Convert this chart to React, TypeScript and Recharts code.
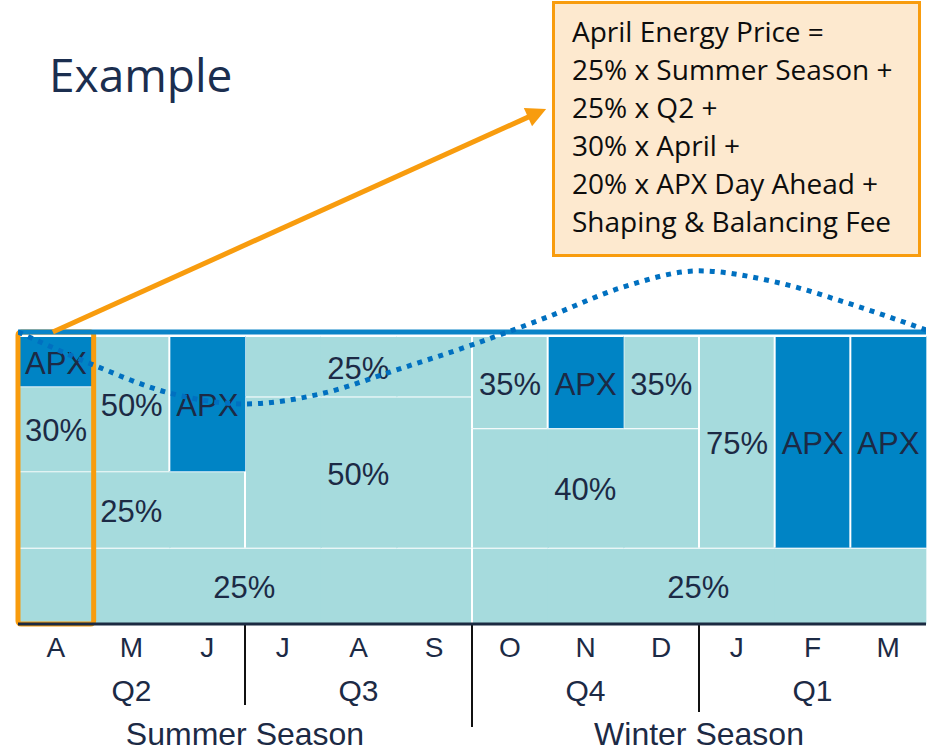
import {
  Bar,
  ComposedChart,
  Line,
  ReferenceArea,
  ReferenceLine,
  XAxis,
  YAxis,
} from "recharts";

// Delivery months of the contract year, April to March.
const months = ["Apr", "May", "Jun", "Jul", "Aug", "Sep", "Oct", "Nov", "Dec", "Jan", "Feb", "Mar"];
const monthLetters = ["A", "M", "J", "J", "A", "S", "O", "N", "D", "J", "F", "M"];

// Share of each month's volume bought per product layer (height as drawn).
const seasonShare = [26.5, 26.5, 26.5, 26.5, 26.5, 26.5, 26.5, 26.5, 26.5, 26.5, 26.5, 26.5];
const quarterShare = [26.5, 26.5, 26.5, 52.5, 52.5, 52.5, 41.5, 41.5, 41.5, 0, 0, 0];
const monthShare = [29.5, 47, 0, 21, 21, 21, 32, 0, 32, 73.5, 0, 0];
const apxShare = [17.5, 0, 47, 0, 0, 0, 0, 32, 0, 0, 73.5, 73.5];

// Which months one product block covers, and the label it carries.
const seasonBlock = ["S", "S", "S", "S", "S", "S", "W", "W", "W", "W", "W", "W"];
const seasonText = ["25%", "25%", "25%", "25%", "25%", "25%", "25%", "25%", "25%", "25%", "25%", "25%"];
const quarterBlock = ["Q2", "Q2", "Q2", "Q3", "Q3", "Q3", "Q4", "Q4", "Q4", "Q1", "Q1", "Q1"];
const quarterText = ["25%", "25%", "25%", "50%", "50%", "50%", "40%", "40%", "40%", "", "", ""];
const monthBlock = ["Apr", "May", "Jun", "Q3", "Q3", "Q3", "Oct", "Nov", "Dec", "Jan", "Feb", "Mar"];
const monthText = ["30%", "50%", "", "25%", "25%", "25%", "35%", "", "35%", "75%", "", ""];
const apxBlock = months;
const apxText = ["APX", "", "APX", "", "", "", "", "APX", "", "", "APX", "APX"];

// Axis groupings under the month letters.
const quarterNames = ["Q2", "Q3", "Q4", "Q1"];
const quarterCenters = [1.5, 4.5, 7.5, 10.5];
const seasonNames = ["Summer Season", "Winter Season"];
const seasonCenters = [3, 9];
const dividerAt = [3, 6, 9];

// Price curve (dotted), in months from the start of April.
const curveT = [0, 1, 2, 3, 4, 5, 6, 7, 8, 9, 10, 11, 12];
const curveValue = [101.4, 89.9, 80.2, 76.4, 79.9, 88.2, 96.9, 106.6, 117, 122.6, 118.8, 111.1, 102.1];

const topRule = 101.4;
const calloutLines = [
  "April Energy Price =",
  "25% x Summer Season +",
  "25% x Q2 +",
  "30% x April +",
  "20% x APX Day Ahead +",
  "Shaping & Balancing Fee",
];

const LIGHT = "#a6dbdd";
const DARK = "#0084c5";
const INK = "#1c2a45";
const ORANGE = "#f89c0e";
const LABEL_FONT = "'Liberation Sans', Arial, sans-serif";

const rows = months.map((month, i) => ({
  month,
  season: seasonShare[i],
  quarter: quarterShare[i],
  product: monthShare[i],
  apx: apxShare[i],
}));

const curve = curveT.map((t, i) => ({ t, v: curveValue[i] }));

// Stacked cell that only draws a white edge where a product block starts,
// so blocks spanning several months read as one merged cell. The label is
// drawn from the last month of the block so later cells don't cover it.
function makeCellShape(blocks: string[], texts: string[]) {
  return (props: any) => {
    const { x, y, width, height, fill } = props;
    const index = months.indexOf(props.payload?.month);
    if (!height || height <= 0) return <g />;
    const startsBlock = index === 0 || blocks[index - 1] !== blocks[index];
    const endsBlock = index === months.length - 1 || blocks[index + 1] !== blocks[index];
    let span = 1;
    while (index - span >= 0 && blocks[index - span] === blocks[index]) span++;
    const text = texts[index];
    // overlap the next cell a little so no hairline seam shows inside a block
    const drawWidth = endsBlock ? width : width + 1;
    return (
      <g>
        <rect x={x} y={y} width={drawWidth} height={height} fill={fill} />
        <line x1={x} x2={x + drawWidth} y1={y} y2={y} stroke="#fff" strokeWidth={2} />
        {startsBlock && <line x1={x} x2={x} y1={y} y2={y + height} stroke="#fff" strokeWidth={2} />}
        {endsBlock && text ? (
          <text
            x={x + width - (span * width) / 2}
            y={y + height / 2 + 2}
            textAnchor="middle"
            dominantBaseline="central"
            fontFamily={LABEL_FONT}
            fontSize={31}
            fill={INK}
          >
            {text}
          </text>
        ) : null}
      </g>
    );
  };
}

function MonthTick(props: any) {
  const index = months.indexOf(props.payload?.value);
  return (
    <text
      x={props.x}
      y={624 + 23}
      textAnchor="middle"
      dominantBaseline="central"
      fontFamily={LABEL_FONT}
      fontSize={28}
      fill={INK}
    >
      {monthLetters[index]}
    </text>
  );
}

function axisText(label: string, dy: number, size: number) {
  return (props: any) => {
    const bottom = Math.max(props.y1, props.y2);
    return (
      <text
        x={props.x1}
        y={bottom + dy}
        textAnchor="middle"
        dominantBaseline="central"
        fontFamily={LABEL_FONT}
        fontSize={size}
        fill={INK}
      >
        {label}
      </text>
    );
  };
}

function dividerShape(length: number) {
  return (props: any) => {
    const bottom = Math.max(props.y1, props.y2);
    return <line x1={props.x1} x2={props.x1} y1={bottom} y2={bottom + length} stroke="#111" strokeWidth={2} />;
  };
}

function ArrowShape(props: any) {
  const { x1, y1, x2, y2 } = props;
  const dx = x2 - x1;
  const dy = y2 - y1;
  const len = Math.hypot(dx, dy);
  const ux = dx / len;
  const uy = dy / len;
  const bx = x2 - ux * 20;
  const by = y2 - uy * 20;
  const half = 10;
  return (
    <g>
      <line x1={x1} y1={y1} x2={bx + ux * 2} y2={by + uy * 2} stroke={ORANGE} strokeWidth={5} />
      <polygon
        points={`${x2},${y2} ${bx - uy * half},${by + ux * half} ${bx + uy * half},${by - ux * half}`}
        fill={ORANGE}
      />
    </g>
  );
}

const dividerLength = [81, 103, 88];

export default function App() {
  return (
    <div style={{ position: "absolute", left: 0, top: 0, width: 932, height: 751, background: "#fff" }}>
      <ComposedChart
        width={932}
        height={751}
        data={rows}
        margin={{ top: 58, right: 6, bottom: 0, left: 18 }}
        barCategoryGap={0}
        barGap={0}
      >
        <XAxis
          xAxisId="m"
          dataKey="month"
          height={127}
          interval={0}
          tickLine={false}
          tickSize={0}
          tickMargin={0}
          axisLine={{ stroke: "#1b2a41", strokeWidth: 3 }}
          tick={<MonthTick />}
        />
        <XAxis xAxisId="t" type="number" dataKey="t" domain={[0, 12]} allowDataOverflow hide />
        <YAxis
          domain={[0, 196.5]}
          allowDataOverflow
          width={0}
          tick={false}
          tickLine={false}
          axisLine={{ stroke: "#1b2a41", strokeWidth: 2 }}
        />

        <Bar xAxisId="m" dataKey="season" stackId="a" fill={LIGHT} isAnimationActive={false} shape={makeCellShape(seasonBlock, seasonText)} />
        <Bar xAxisId="m" dataKey="quarter" stackId="a" fill={LIGHT} isAnimationActive={false} shape={makeCellShape(quarterBlock, quarterText)} />
        <Bar xAxisId="m" dataKey="product" stackId="a" fill={LIGHT} isAnimationActive={false} shape={makeCellShape(monthBlock, monthText)} />
        <Bar xAxisId="m" dataKey="apx" stackId="a" fill={DARK} isAnimationActive={false} shape={makeCellShape(apxBlock, apxText)} />

        <ReferenceLine xAxisId="t" y={topRule} stroke="#0a84c8" strokeWidth={5} />

        {dividerAt.map((t, i) => (
          <ReferenceLine key={`d${t}`} xAxisId="t" x={t} stroke="none" shape={dividerShape(dividerLength[i])} />
        ))}
        {quarterNames.map((q, i) => (
          <ReferenceLine key={q} xAxisId="t" x={quarterCenters[i]} stroke="none" shape={axisText(q, 66, 30)} />
        ))}
        {seasonNames.map((s, i) => (
          <ReferenceLine key={s} xAxisId="t" x={seasonCenters[i]} stroke="none" shape={axisText(s, 110, 32)} />
        ))}

        <ReferenceArea
          xAxisId="t"
          x1={0}
          x2={1}
          y1={0}
          y2={topRule}
          fill="none"
          fillOpacity={0}
          stroke={ORANGE}
          strokeWidth={5}
          radius={3}
          zIndex={350}
        />

        <Line
          xAxisId="t"
          data={curve}
          dataKey="v"
          type="monotone"
          stroke="#0070c0"
          strokeWidth={5}
          strokeDasharray="5 6"
          dot={false}
          activeDot={false}
          isAnimationActive={false}
        />

        <ReferenceLine
          xAxisId="t"
          segment={[
            { x: 0.46, y: topRule },
            { x: 6.98, y: 178.8 },
          ]}
          stroke={ORANGE}
          shape={ArrowShape}
          zIndex={450}
        />
      </ComposedChart>

      <svg
        width={932}
        height={751}
        style={{ position: "absolute", left: 0, top: 0, pointerEvents: "none" }}
      >
        <text x={49} y={92} fontFamily="'Open Sans', sans-serif" fontSize={46} fill="#1b2e4f">
          Example
        </text>
        <rect x={553.5} y={2.5} width={366} height={253} fill="#fde9cf" stroke={ORANGE} strokeWidth={3} />
        {calloutLines.map((line, i) => (
          <text
            key={line}
            x={572}
            y={42 + i * 38}
            fontFamily="'Open Sans', sans-serif"
            fontSize={28}
            fill="#0d0d0d"
          >
            {line}
          </text>
        ))}
      </svg>
    </div>
  );
}
